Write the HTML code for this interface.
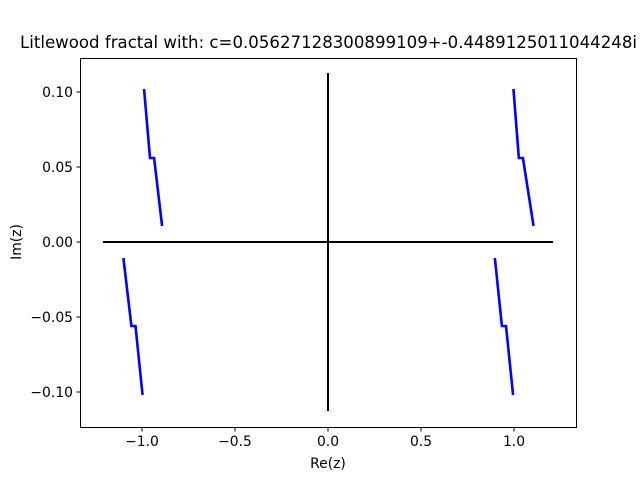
<!DOCTYPE html>
<html><head><meta charset="utf-8"><style>body{margin:0;background:#fff}svg{display:block}</style></head>
<body>
<svg id="chart" width="640" height="480" xmlns="http://www.w3.org/2000/svg" font-family="DejaVu Sans, sans-serif">
<rect width="640" height="480" fill="#fff"/>
<text x="20" y="48" font-size="16.5" textLength="617" lengthAdjust="spacingAndGlyphs">Litlewood fractal with: c=0.05627128300899109+-0.4489125011044248i</text>
<g id="plot"></g>
<rect x="80.5" y="58.5" width="496" height="369" fill="none" stroke="#000" stroke-width="1"/>
<g id="axes" font-size="13.9"></g>
<text x="328" y="468" font-size="13.9" text-anchor="middle">Re(z)</text>
<text transform="translate(21,242) rotate(-90)" font-size="13.9" text-anchor="middle">Im(z)</text>
</svg>
<script>
const xTicks=[-1.0,-0.5,0.0,0.5,1.0];
const xTickLabels=["−1.0","−0.5","0.0","0.5","1.0"];
const yTicks=[-0.10,-0.05,0.00,0.05,0.10];
const yTickLabels=["−0.10","−0.05","0.00","0.05","0.10"];
const curveTopLeftX=[-0.989,-0.957,-0.935,-0.892];
const curveTopLeftY=[0.102,0.056,0.056,0.0107];
const curveTopRightX=[0.997,1.026,1.048,1.105];
const curveTopRightY=[0.102,0.056,0.056,0.0107];
const curveBottomLeftX=[-1.10,-1.057,-1.035,-0.997];
const curveBottomLeftY=[-0.0107,-0.056,-0.056,-0.102];
const curveBottomRightX=[0.897,0.935,0.957,0.995];
const curveBottomRightY=[-0.0107,-0.056,-0.056,-0.102];
const realAxisX=[-1.21,1.21];
const imagAxisY=[0.1127,-0.1127];

const NS="http://www.w3.org/2000/svg";
const sx=v=>328+v*186;
const sy=v=>242-v*1500;
const plot=document.getElementById('plot'),axes=document.getElementById('axes');
function mk(tag,attrs,parent){const e=document.createElementNS(NS,tag);for(const k in attrs)e.setAttribute(k,attrs[k]);parent.appendChild(e);return e;}
let l=mk('line',{x1:sx(realAxisX[0]),x2:sx(realAxisX[1]),y1:sy(0),y2:sy(0),stroke:'#000','stroke-width':2},plot);


l=mk('line',{x1:sx(0),x2:sx(0),y1:sy(imagAxisY[0]),y2:sy(imagAxisY[1]),stroke:'#000','stroke-width':2},plot);


const curves=[[curveTopLeftX,curveTopLeftY,'curve-top-left'],[curveTopRightX,curveTopRightY,'curve-top-right'],[curveBottomLeftX,curveBottomLeftY,'curve-bottom-left'],[curveBottomRightX,curveBottomRightY,'curve-bottom-right']];
curves.forEach(c=>{
  const pts=c[0].map((x,i)=>sx(x)+','+sy(c[1][i])).join(' ');
  const p=mk('polyline',{points:pts,fill:'none',stroke:'#0000ff','stroke-width':2.6},plot);
  
  
});
xTicks.forEach((v,i)=>{
  const t=mk('line',{x1:sx(v),x2:sx(v),y1:427.5,y2:431.5,stroke:'#000'},axes);
  
  
  const tx=mk('text',{x:sx(v),y:446,'text-anchor':'middle'},axes);
  tx.textContent=xTickLabels[i];
  
  
});
yTicks.forEach((v,i)=>{
  const t=mk('line',{x1:76.5,x2:80.5,y1:sy(v),y2:sy(v),stroke:'#000'},axes);
  
  
  const tx=mk('text',{x:73,y:sy(v)+5,'text-anchor':'end'},axes);
  tx.textContent=yTickLabels[i];
  
  
});
</script>
</body></html>
